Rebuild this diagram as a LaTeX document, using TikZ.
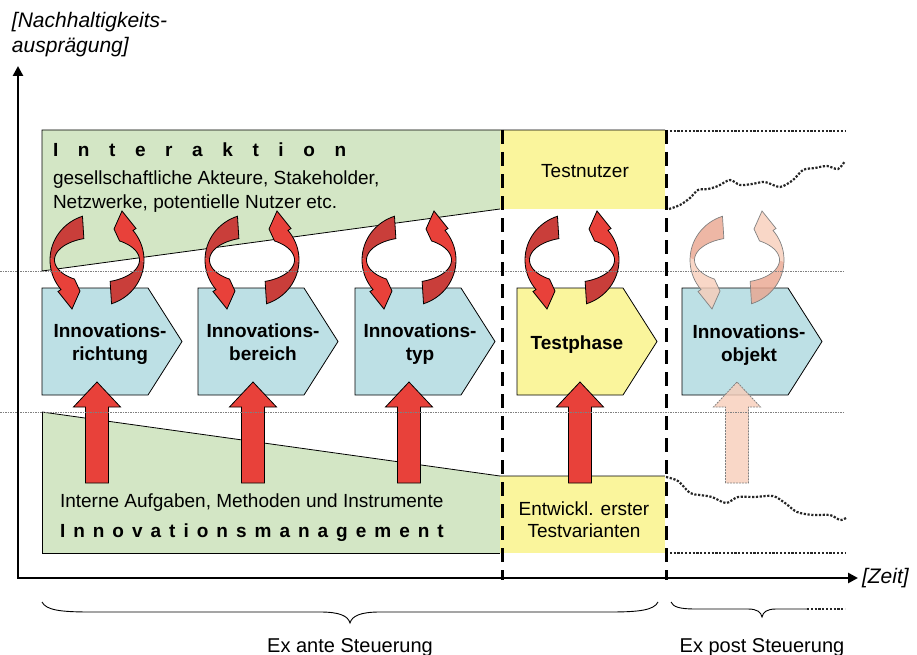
\documentclass[tikz,border=0pt]{standalone}
\usepackage{fontspec}
\setmainfont{Liberation Sans}
\usetikzlibrary{arrows.meta}

\definecolor{areagreen}{HTML}{D3E6C5}
\definecolor{areayellow}{HTML}{FAF59C}
\definecolor{chevblue}{HTML}{BDE0E5}
\definecolor{redlight}{HTML}{E8413A}
\definecolor{reddark}{HTML}{C93E3A}
\definecolor{sallight}{HTML}{F8CDB9}
\definecolor{saldark}{HTML}{EAA58E}

\newcommand\fsz[1]{\fontsize{#1}{#1}\selectfont}
\newcommand\gapA{\hspace{19.6pt}}
\newcommand\gapB{\hspace{8pt}}

% one half of a two-arrow cycle, drawn as a ribbon seen in perspective
% (outer edge: ellipse 47 x 46, inner edge: ellipse 42.5 x 22.5);
% #1 back part, #2 front part with the head, #3 outline
\newcommand\cyclehalf[3]{%
  \fill[#1] plot[domain=252:182,samples=16] ({47*cos(\x)},{46*sin(\x)})
     -- plot[domain=182:252,samples=16] ({42.5*cos(\x)},{22.5*sin(\x)}) -- cycle;
  \fill[#2] plot[domain=182:140,samples=10] ({47*cos(\x)},{46*sin(\x)})
     -- (-39,31.5) -- (-25,49) -- (-17,31)
     -- plot[domain=122:182,samples=12] ({42.5*cos(\x)},{22.5*sin(\x)}) -- cycle;
  \draw[#3] plot[domain=252:140,samples=26] ({47*cos(\x)},{46*sin(\x)})
     -- (-39,31.5) -- (-25,49) -- (-17,31)
     -- plot[domain=122:252,samples=30] ({42.5*cos(\x)},{22.5*sin(\x)}) -- cycle;
}
% full cycle of two arrows centred at (#1,#2)
\newcommand\cyclepair[5]{%
  \begin{scope}[shift={(#1,#2)}]
    \cyclehalf{#3}{#4}{#5}
    \begin{scope}[rotate=180]\cyclehalf{#3}{#4}{#5}\end{scope}
  \end{scope}}
% chevron with left edge #1
\newcommand\chevron[2]{%
  \draw[#2] (#1,288) -- ++(106,0) -- ++(34,53.5) -- ++(-34,53.5) -- ++(-106,0) -- cycle;}
% upward block arrow with tip at x=#1
\newcommand\blockup[2]{%
  \draw[#2] (#1-11.5,483) -- (#1-11.5,407) -- (#1-23.5,407) -- (#1,382)
     -- (#1+23.5,407) -- (#1+11.5,407) -- (#1+11.5,483) -- cycle;}

\begin{document}
\begin{tikzpicture}[x=1pt,y=-1pt,
  every node/.style={inner sep=0pt,outer sep=0pt},
  outline/.style={draw=black,line width=.8pt},
  chev/.style={draw=black,line width=.8pt,fill=chevblue},
  chevtext/.style={font=\fsz{19}\bfseries,anchor=base},
  bodytext/.style={font=\fsz{19},anchor=base west},
  ctrtext/.style={font=\fsz{19},anchor=base},
  ital/.style={font=\fsz{21}\itshape,anchor=base west},
  axis/.style={line width=2.6pt,{Triangle[length=10pt,width=10pt]}-{Triangle[length=10pt,width=10pt]}},
  phase/.style={line width=3pt,dash pattern=on 14pt off 8pt},
  envelope/.style={line width=2.2pt,black!85,dash pattern=on 2.2pt off 1.6pt},
  midline/.style={gray,line width=.9pt,dash pattern=on 1.5pt off 1pt},
  brace/.style={line width=.9pt},
  redarrow/.style={fill=redlight,draw=black,line width=.8pt},
  fadearrow/.style={fill=sallight,fill opacity=.8,draw=gray,line width=.8pt,dash pattern=on 2pt off 1pt}]
\useasboundingbox (0,0) rectangle (917,655);

% background areas
\fill[areagreen] (42,130) -- (500,130) -- (500,209) -- (42,271) -- cycle;
\fill[areayellow] (500,130) rectangle (665,209);
\fill[areagreen] (42,412) -- (500,476) -- (500,553) -- (42,553) -- cycle;
\fill[areayellow] (500,476) rectangle (665,553);
\draw[outline] (500,209) -- (42,271) -- (42,130) -- (665,130);
\draw[outline] (42,412) -- (500,476) -- (665,476);
\draw[outline] (500,553) -- (42,553) -- (42,412);

% envelope after the test phase
\draw[envelope] (666,131) -- (845,131);
\draw[envelope] (666,553) -- (845,553);
\draw[envelope] plot[smooth,tension=.5] coordinates {(669,209) (680,205) (690,198) (698,190) (708,189) (718,186) (730,180) (740,185) (752,184) (765,182) (780,187) (793,180) (803,170) (815,168) (827,166) (838,169) (845,161)};
\draw[envelope] plot[smooth,tension=.5] coordinates {(666,477) (678,481) (690,493) (700,495) (712,497) (726,503) (738,497) (755,497) (773,496) (785,503) (797,512) (813,515) (830,515) (840,520) (846,518)};

% process steps
\chevron{42}{chev}
\chevron{198}{chev}
\chevron{355}{chev}
\chevron{517}{chev,fill=areayellow}
\chevron{682}{chev}

% cycles of interaction
\cyclepair{97}{260}{reddark}{redlight}{black,line width=.8pt}
\cyclepair{252}{260}{reddark}{redlight}{black,line width=.8pt}
\cyclepair{409}{260}{reddark}{redlight}{black,line width=.8pt}
\cyclepair{572}{260}{reddark}{redlight}{black,line width=.8pt}
\cyclepair{737}{260}{saldark,fill opacity=.8}{sallight,fill opacity=.8}{gray,line width=.7pt}

% internal input arrows
\blockup{97}{redarrow}
\blockup{253}{redarrow}
\blockup{409}{redarrow}
\blockup{580}{redarrow}
\blockup{737}{fadearrow}

% reference levels
\draw[midline] (0,271) -- (845,271);
\draw[midline] (0,412) -- (845,412);

% phase borders
\draw[phase] (502,130) -- (502,580);
\draw[phase] (666,130) -- (666,580);

% axes
\coordinate (ytop) at (18,66);
\coordinate (origin) at (18,578);
\coordinate (xend) at (858,578);
\draw[axis] (ytop) -- (origin) -- (xend);
\node[ital] (ylabA) at (12,28) {[Nachhaltigkeits-};
\node[ital] (ylabB) at (12,53) {ausprägung]};
\node[ital] (xlab) at (862,583) {[Zeit]};

% area texts
\node[bodytext,font=\fsz{19}\bfseries] (interaktion) at (53,157) {I\gapA n\gapA t\gapA e\gapA r\gapA a\gapA k\gapA t\gapA i\gapA o\gapA n};
\node[bodytext] (akteureA) at (53,185) {gesellschaftliche Akteure, Stakeholder,};
\node[bodytext] (akteureB) at (53,208) {Netzwerke, potentielle Nutzer etc.};
\node[ctrtext] (testnutzer) at (585,178) {Testnutzer};
\node[bodytext] (intern) at (60,507) {Interne Aufgaben, Methoden und Instrumente};
\node[bodytext,font=\fsz{19}\bfseries] (imgmt) at (60,537) {I\gapB n\gapB n\gapB o\gapB v\gapB a\gapB t\gapB i\gapB o\gapB n\gapB s\gapB m\gapB a\gapB n\gapB a\gapB g\gapB e\gapB m\gapB e\gapB n\gapB t};
\node[ctrtext] (entwA) at (584,515) {Entwickl. erster};
\node[ctrtext] (entwB) at (584,537) {Testvarianten};

% step labels
\node[chevtext] (richtA) at (110,337) {Innovations-};
\node[chevtext] (richtB) at (110,360) {richtung};
\node[chevtext] (bereichA) at (263,337) {Innovations-};
\node[chevtext] (bereichB) at (263,360) {bereich};
\node[chevtext] (typA) at (420,337) {Innovations-};
\node[chevtext] (typB) at (420,360) {typ};
\node[chevtext] (test) at (577,349) {Testphase};
\node[chevtext] (objA) at (749,338) {Innovations-};
\node[chevtext] (objB) at (749,361) {objekt};

% braces
\draw[brace] (42,602) .. controls (46,610) and (60,612) .. (90,612) -- (320,612)
   .. controls (340,612) and (348,616) .. (350,623)
   .. controls (352,616) and (360,612) .. (380,612) -- (610,612)
   .. controls (640,612) and (654,610) .. (658,602);
\draw[brace] (671,602) .. controls (673,607) and (680,609) .. (695,609) -- (748,609)
   .. controls (757,609) and (761,612) .. (762,617)
   .. controls (763,612) and (767,609) .. (776,609) -- (807,609);
\draw[envelope,line width=1.3pt] (807,609) -- (845,609);
\node[ctrtext,font=\fsz{20}] (exante) at (350,652) {Ex ante Steuerung};
\node[ctrtext,font=\fsz{20}] (expost) at (762,652) {Ex post Steuerung};
\end{tikzpicture}
\end{document}
